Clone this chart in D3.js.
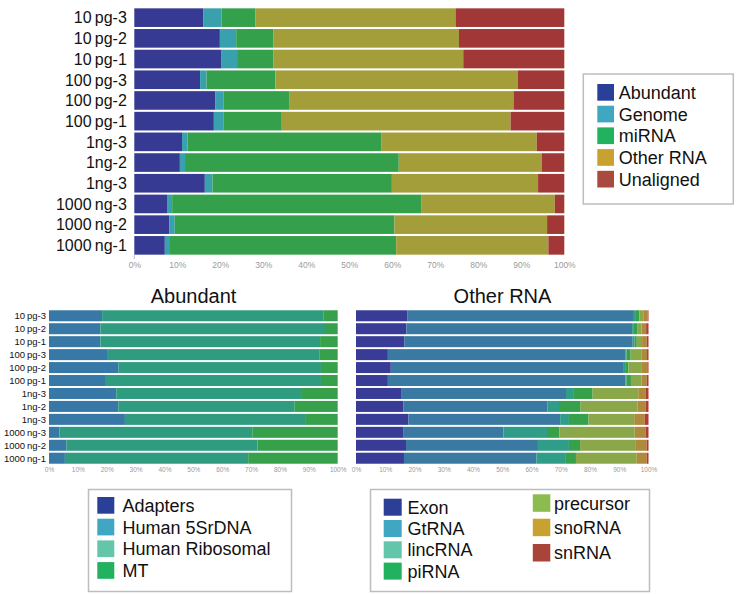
<!DOCTYPE html>
<html>
<head>
<meta charset="utf-8">
<script src="https://cdn.jsdelivr.net/npm/d3@7"></script>
<style>
  html, body { margin: 0; padding: 0; background: #fff; }
  svg { display: block; font-family: "Liberation Sans", Arial, Helvetica, sans-serif; }
</style>
</head>
<body>
<svg id="chart" width="736" height="594"></svg>
<script>
// ---------- DATA ----------
const samples = ["10\u2009pg-3", "10\u2009pg-2", "10\u2009pg-1", "100\u2009pg-3", "100\u2009pg-2", "100\u2009pg-1",
                 "1ng-3", "1ng-2", "1ng-3", "1000\u2009ng-3", "1000\u2009ng-2", "1000\u2009ng-1"];
const pctTicks = [0, 10, 20, 30, 40, 50, 60, 70, 80, 90, 100];

// Top chart: overall composition (%)
const topKeys = ["Abundant", "Genome", "miRNA", "Other RNA", "Unaligned"];
const abundantPct = [16.1, 19.9, 20.3, 15.3, 18.8, 18.5, 11.1, 10.6, 16.4, 7.6, 8.1, 7.1];
const genomePct   = [4.2, 3.8, 3.6, 1.5, 2.0, 2.2, 1.3, 1.2, 1.8, 1.2, 1.3, 1.2];
const miRNAPct    = [7.9, 8.6, 8.4, 16.0, 15.2, 13.6, 45.0, 49.7, 41.7, 57.9, 51.1, 52.6];
const otherRNAPct = [46.5, 43.2, 44.2, 56.4, 52.3, 53.2, 36.2, 33.3, 34.0, 31.1, 35.5, 35.4];
const unalignedPct= [25.3, 24.5, 23.5, 10.8, 11.7, 12.5, 6.4, 5.2, 6.1, 2.2, 4.0, 3.7];

// Bottom-left: Abundant breakdown (%)
const abKeys = ["Adapters", "Human 5SrDNA", "Human Ribosomal", "MT"];
const adaptersPct = [0, 0, 0, 0, 0, 0, 0, 0, 0, 0, 0, 0];
const human5SPct  = [18.4, 17.8, 17.8, 20.1, 24.0, 19.4, 23.3, 24.0, 26.3, 3.6, 6.1, 5.5];
const humanRiboPct= [76.6, 77.8, 76.1, 73.5, 70.2, 74.8, 64.0, 61.1, 62.7, 66.8, 66.1, 63.5];
const mtPct       = [5.0, 4.4, 6.1, 6.4, 5.8, 5.8, 12.7, 14.9, 11.0, 29.6, 27.8, 31.0];

// Bottom-right: Other RNA breakdown (%)
const orKeys = ["Exon", "GtRNA", "lincRNA", "piRNA", "precursor", "snoRNA", "snRNA"];
const exonPct      = [17.5, 17.2, 16.6, 10.9, 11.9, 10.9, 15.4, 16.2, 17.9, 16.3, 17.1, 16.4];
const gtRNAPct     = [77.5, 77.2, 78.0, 81.3, 79.4, 81.2, 56.4, 49.2, 51.9, 34.1, 45.1, 45.3];
const lincRNAPct   = [0.7, 0.6, 0.6, 0.3, 0.7, 0.4, 2.7, 4.0, 3.0, 14.9, 10.6, 9.8];
const piRNAPct     = [1.2, 1.1, 0.8, 1.4, 1.1, 1.5, 6.4, 7.4, 6.7, 4.2, 3.8, 3.7];
const precursorPct = [1.3, 1.5, 1.8, 3.8, 4.4, 3.6, 15.6, 19.4, 15.6, 25.8, 19.1, 20.8];
const snoRNAPct    = [1.5, 1.6, 1.6, 1.8, 2.1, 1.8, 2.6, 2.8, 3.6, 3.7, 3.7, 3.4];
const snRNAPct     = [0.3, 0.8, 0.6, 0.5, 0.4, 0.6, 0.9, 1.0, 1.3, 1.0, 0.6, 0.6];

// ---------- STYLE ----------
const topBarColors = ["#373a92", "#39a0ae", "#35a04b", "#a39d3a", "#a23737"];
const topLegColors = ["#2a3f97", "#3fa7c1", "#22b15f", "#c9a131", "#a94a3f"];
const abBarColors  = ["#373a92", "#3878a6", "#2f9c80", "#37a04b"];
const abLegColors  = ["#2a3f97", "#3fa7c1", "#63c5a9", "#22b15f"];
const orBarColors  = ["#393c96", "#3a79a2", "#2f9d88", "#37a04a", "#8aa84a", "#b08a3c", "#b03a34"];
const orLegColors  = ["#2b3f97", "#3fa7c1", "#63c5a9", "#22b15f", "#8cbb50", "#c9a131", "#a94438"];

const svg = d3.select("#chart");

function buildRows(keys, arrays) {
  return samples.map((s, i) => {
    const o = { sample: s, idx: i };
    keys.forEach((k, j) => o[k] = arrays[j][i]);
    return o;
  });
}

function drawStacked(cfg) {
  const rows = buildRows(cfg.keys, cfg.arrays);
  const x = d3.scaleLinear().domain([0, 100]).range([cfg.x0, cfg.x1]);
  const y = d3.scaleBand().domain(d3.range(samples.length)).range([cfg.y0, cfg.y1])
              .paddingInner(cfg.pad).paddingOuter(cfg.pad / 2);
  const stack = d3.stack().keys(cfg.keys)(rows);
  const g = svg.append("g");
  g.selectAll("g.layer").data(stack).join("g")
    .attr("fill", (d, i) => cfg.colors[i])
    .selectAll("rect").data(d => d).join("rect")
    .attr("x", d => x(d[0]))
    .attr("width", d => Math.max(0, x(d[1]) - x(d[0])))
    .attr("y", d => y(d.data.idx))
    .attr("height", y.bandwidth());

  if (cfg.labelSize) {
    g.selectAll("text.lab").data(rows).join("text")
      .attr("x", cfg.x0 - cfg.labelGap)
      .attr("y", d => y(d.idx) + y.bandwidth() / 2)
      .attr("dy", "0.36em")
      .attr("text-anchor", "end")
      .attr("font-size", cfg.labelSize)
      .attr("fill", "#111")
      .text(d => d.sample);
  }

  const axis = d3.axisBottom(x).tickValues(pctTicks).tickFormat(d => d + "%").tickSize(0).tickPadding(0);
  const ax = svg.append("g").attr("transform", `translate(0,${cfg.axisY})`).call(axis);
  ax.select(".domain").remove();
  ax.selectAll("text").attr("font-size", cfg.tickSize).attr("fill", "#9a9a9a")
    .attr("dy", "0.35em").attr("font-family", "'Liberation Sans', Arial, sans-serif");
  return { x, y };
}

// Top chart
drawStacked({
  keys: topKeys, arrays: [abundantPct, genomePct, miRNAPct, otherRNAPct, unalignedPct],
  colors: topBarColors, x0: 134.3, x1: 564.3, y0: 7.3, y1: 7.3 + 12 * 20.7, pad: 0.1,
  labelSize: 16, labelGap: 7.5, axisY: 265.5, tickSize: 8.5
});
// zero tick mark
svg.append("line").attr("x1", 134.3).attr("x2", 134.3).attr("y1", 255).attr("y2", 259)
   .attr("stroke", "#bbb").attr("stroke-width", 1);

// Bottom-left
drawStacked({
  keys: abKeys, arrays: [adaptersPct, human5SPct, humanRiboPct, mtPct],
  colors: abBarColors, x0: 49, x1: 337.7, y0: 309.3, y1: 309.3 + 12 * 12.95, pad: 0.15,
  labelSize: 9.5, labelGap: 3, axisY: 469.5, tickSize: 6.5
});
// Bottom-right
drawStacked({
  keys: orKeys, arrays: [exonPct, gtRNAPct, lincRNAPct, piRNAPct, precursorPct, snoRNAPct, snRNAPct],
  colors: orBarColors, x0: 356, x1: 648.5, y0: 309.3, y1: 309.3 + 12 * 12.95, pad: 0.15,
  labelSize: 0, labelGap: 0, axisY: 469.5, tickSize: 6.5
});

// Titles
svg.append("text").attr("x", 193.5).attr("y", 303).attr("text-anchor", "middle")
   .attr("font-size", 20).attr("fill", "#111").text("Abundant");
svg.append("text").attr("x", 502.5).attr("y", 303).attr("text-anchor", "middle")
   .attr("font-size", 20).attr("fill", "#111").text("Other RNA");

// Legends
function legendBox(x, y, w, h) {
  svg.append("rect").attr("x", x).attr("y", y).attr("width", w).attr("height", h)
     .attr("fill", "#fff").attr("stroke", "#bdbdbd").attr("stroke-width", 1.5);
}
function legendItems(items) {
  const g = svg.append("g");
  g.selectAll("rect").data(items).join("rect")
    .attr("x", d => d.sx).attr("y", d => d.sy).attr("width", d => d.sw).attr("height", d => d.sh)
    .attr("fill", d => d.color);
  g.selectAll("text").data(items).join("text")
    .attr("x", d => d.tx).attr("y", d => d.sy + d.sh / 2).attr("dy", "0.36em")
    .attr("font-size", 18).attr("fill", "#111").text(d => d.name);
}

legendBox(583.3, 74, 150, 130);
legendItems(topKeys.map((k, i) => ({ name: k, color: topLegColors[i],
  sx: 597.3, sy: 84 + i * 21.7, sw: 16.7, sh: 16.7, tx: 618.7 })));

legendBox(88.5, 489.5, 203, 102);
legendItems(abKeys.map((k, i) => ({ name: k, color: abLegColors[i],
  sx: 97.3, sy: 497 + i * 21.7, sw: 17, sh: 16.7, tx: 122.5 })));

legendBox(370.5, 489.5, 279, 102);
const orCol2Y = [494.3, 518.7, 544];
legendItems(orKeys.map((k, i) => i < 4
  ? { name: k, color: orLegColors[i], sx: 383.7, sy: 498.7 + i * 21.3, sw: 18, sh: 17, tx: 407.4 }
  : { name: k, color: orLegColors[i], sx: 532.8, sy: orCol2Y[i - 4], sw: 17.5, sh: 17.5, tx: 554 }));
</script>
</body>
</html>
